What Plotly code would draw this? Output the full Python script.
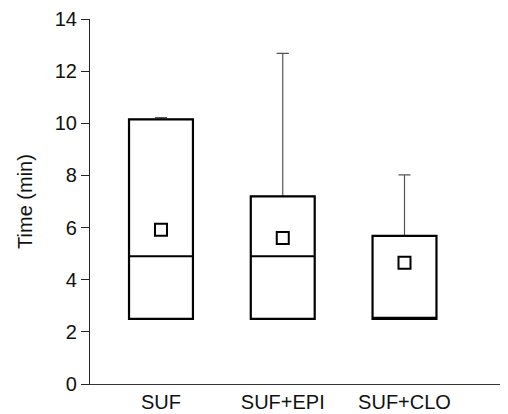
import plotly.graph_objects as go

categories = ["SUF", "SUF+EPI", "SUF+CLO"]
q1 = [2.5, 2.5, 2.5]
median = [4.9, 4.9, 2.5]
q3 = [10.15, 7.2, 5.68]
upper = [10.22, 12.68, 8.02]
mean = [5.92, 5.6, 4.65]
y_ticks = [0, 2, 4, 6, 8, 10, 12, 14]

fig = go.Figure()

# whiskers (upper only): zero-height box from q3 to the upper fence
fig.add_trace(go.Box(
    x=categories, q1=q3, median=q3, q3=q3,
    lowerfence=q3, upperfence=upper,
    line=dict(color="#555555", width=1.2), fillcolor="white",
    width=0.525, whiskerwidth=0.19, showlegend=False,
    boxpoints=False, hoverinfo="skip",
))

# boxes
fig.add_trace(go.Box(
    x=categories, q1=q1, median=median, q3=q3,
    lowerfence=q1, upperfence=q3,
    line=dict(color="black", width=2.2), fillcolor="white",
    width=0.525, whiskerwidth=0, showlegend=False,
    boxpoints=False,
))

# means
fig.add_trace(go.Scatter(
    x=categories, y=mean, mode="markers",
    marker=dict(symbol="square", size=12, color="white",
                line=dict(color="black", width=2)),
    showlegend=False,
))

font = dict(family="Liberation Sans, Arial, sans-serif", size=20, color="#111")
fig.update_layout(
    width=500, height=406,
    margin=dict(l=82, r=0, t=9, b=30),
    plot_bgcolor="white", paper_bgcolor="white",
    font=font, boxmode="overlay",
    xaxis=dict(type="category", range=[-0.583, 2.85], showline=True,
               linecolor="#333", linewidth=1.2, ticks="", showgrid=False,
               zeroline=False, tickfont=font),
    yaxis=dict(range=[0, 14], tickvals=y_ticks, showline=True,
               linecolor="#222", linewidth=1.2, ticks="outside", ticklen=8,
               tickcolor="#222", showgrid=False, zeroline=False,
               ticklabeloverflow="allow",
               title=dict(text="Time (min)", font=font, standoff=16),
               tickfont=font),
)

fig.write_html("out.html")
